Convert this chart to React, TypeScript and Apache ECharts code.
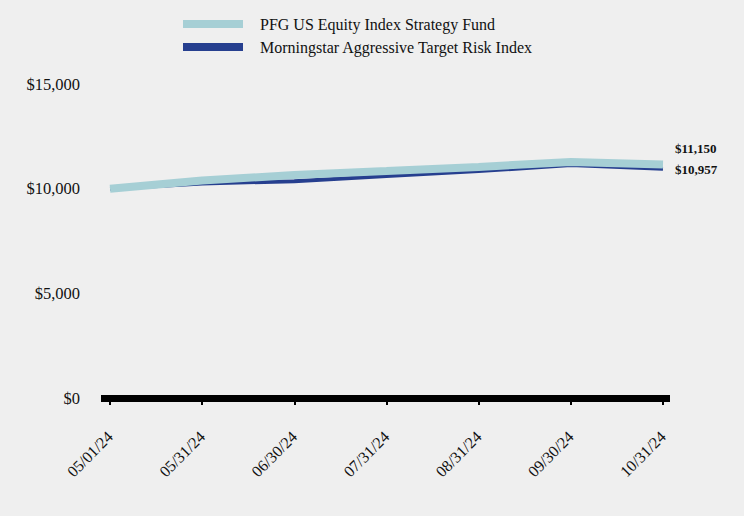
import React, { useEffect, useRef } from "react";
import * as echarts from "echarts";

const dates = ["05/01/24", "05/31/24", "06/30/24", "07/31/24", "08/31/24", "09/30/24", "10/31/24"];
const fundName = "PFG US Equity Index Strategy Fund";
const indexName = "Morningstar Aggressive Target Risk Index";
const fundValues = [10000, 10390, 10650, 10840, 11040, 11270, 11150];
const indexValues = [10000, 10250, 10360, 10600, 10840, 11130, 10957];
const yTicks = [0, 5000, 10000, 15000];

const fmt = (v: number) => "$" + v.toLocaleString("en-US");
const FONT = "'Liberation Serif', 'Times New Roman', serif";

export default function App() {
  const ref = useRef<HTMLDivElement>(null);
  useEffect(() => {
    if (!ref.current) return;
    const chart = echarts.init(ref.current, undefined, { renderer: "svg" });
    const idx = dates.map((_, i) => i);
    chart.setOption({
      animation: false,
      backgroundColor: "#efefef",
      textStyle: { fontFamily: FONT },
      legend: {
        orient: "vertical",
        left: 178,
        top: 11,
        itemWidth: 60,
        itemHeight: 8,
        itemGap: 7,
        icon: "rect",
        textStyle: { fontFamily: FONT, fontSize: 16, color: "#111", padding: [0, 0, 0, 12] },
        data: [fundName, indexName],
      },
      grid: { left: 101, right: 74, top: 84, bottom: 118, containLabel: false },
      xAxis: {
        type: "value",
        min: -0.098,
        max: 6.076,
        splitLine: { show: false },
        axisLine: { show: true, lineStyle: { color: "#000", width: 7, cap: "butt" } },
        axisTick: { show: true, customValues: idx, length: 7, lineStyle: { color: "#000", width: 2 } },
        axisLabel: {
          customValues: idx,
          rotate: 45,
          margin: 36,
          fontFamily: FONT,
          fontSize: 16,
          color: "#111",
          formatter: (v: number) => dates[Math.round(v)] ?? "",
        },
      },
      yAxis: {
        type: "value",
        min: yTicks[0],
        max: yTicks[yTicks.length - 1],
        interval: 5000,
        splitLine: { show: false },
        axisLine: { show: false },
        axisTick: { show: false },
        axisLabel: { margin: 21, fontFamily: FONT, fontSize: 16.5, color: "#111", formatter: (v: number) => fmt(v) },
      },
      series: [
        {
          name: indexName,
          type: "line",
          data: indexValues.map((v, i) => [i, v]),
          showSymbol: false,
          symbol: "none",
          color: "#263f8f",
          lineStyle: { width: 4, color: "#263f8f" },
          z: 2,
          endLabel: {
            show: true,
            formatter: () => fmt(indexValues[indexValues.length - 1]),
            fontFamily: FONT,
            fontSize: 13,
            fontWeight: "bold",
            color: "#111",
            distance: 12,
            offset: [0, 1],
          },
        },
        {
          name: fundName,
          type: "line",
          data: fundValues.map((v, i) => [i, v]),
          showSymbol: false,
          symbol: "none",
          color: "#a6cfd5",
          lineStyle: { width: 8, color: "#a6cfd5" },
          z: 3,
          endLabel: {
            show: true,
            formatter: () => fmt(fundValues[fundValues.length - 1]),
            fontFamily: FONT,
            fontSize: 13,
            fontWeight: "bold",
            color: "#111",
            distance: 12,
            offset: [0, -16],
          },
        },
      ],
    });
    return () => chart.dispose();
  }, []);
  return <div ref={ref} style={{ width: 744, height: 516, position: "absolute", left: 0, top: 0 }} />;
}
